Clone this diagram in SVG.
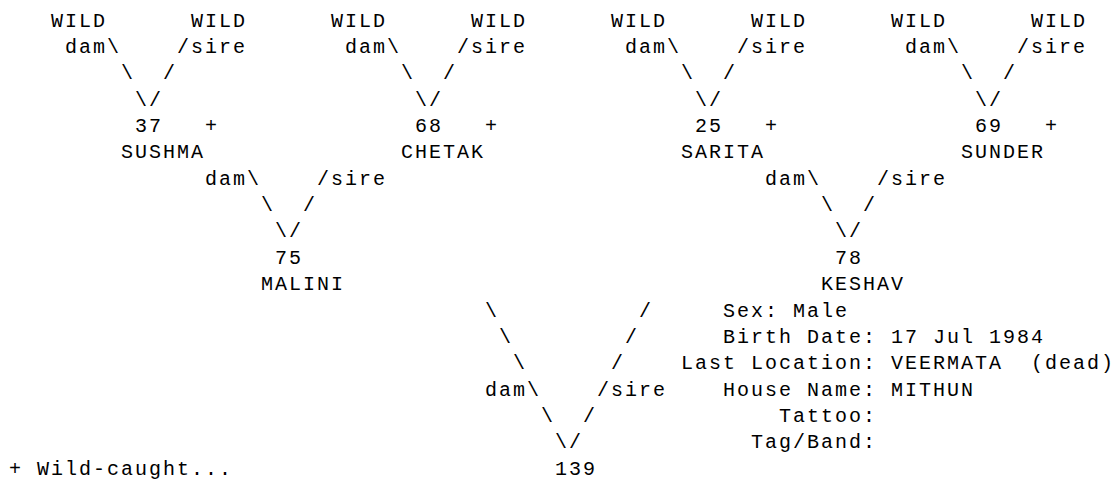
<svg xmlns="http://www.w3.org/2000/svg" width="1117" height="480" viewBox="0 0 1117 480">
<style>
text{font-family:"Liberation Mono","DejaVu Sans Mono",monospace;font-size:20px;letter-spacing:2px;fill:#000;white-space:pre}
</style>
<rect width="1117" height="480" fill="#fff"/>
<g id="connectors">
<text x="65" y="53">dam\</text><text x="177" y="53">/sire</text>
<text x="345" y="53">dam\</text><text x="457" y="53">/sire</text>
<text x="625" y="53">dam\</text><text x="737" y="53">/sire</text>
<text x="905" y="53">dam\</text><text x="1017" y="53">/sire</text>
<text x="121" y="79.3">\</text><text x="163" y="79.3">/</text>
<text x="401" y="79.3">\</text><text x="443" y="79.3">/</text>
<text x="681" y="79.3">\</text><text x="723" y="79.3">/</text>
<text x="961" y="79.3">\</text><text x="1003" y="79.3">/</text>
<text x="135" y="105.7">\/</text>
<text x="415" y="105.7">\/</text>
<text x="695" y="105.7">\/</text>
<text x="975" y="105.7">\/</text>
<text x="205" y="184.7">dam\</text><text x="317" y="184.7">/sire</text>
<text x="765" y="184.7">dam\</text><text x="877" y="184.7">/sire</text>
<text x="261" y="211">\</text><text x="303" y="211">/</text>
<text x="821" y="211">\</text><text x="863" y="211">/</text>
<text x="275" y="237.4">\/</text>
<text x="835" y="237.4">\/</text>
<text x="485" y="316.5">\</text><text x="639" y="316.5">/</text>
<text x="499" y="342.8">\</text><text x="625" y="342.8">/</text>
<text x="513" y="369.2">\</text><text x="611" y="369.2">/</text>
<text x="485" y="395.5">dam\</text><text x="597" y="395.5">/sire</text>
<text x="541" y="421.9">\</text><text x="583" y="421.9">/</text>
<text x="555" y="448.2">\/</text>
</g>
<g id="wild-1"><text x="51" y="26.6">WILD</text></g>
<g id="wild-2"><text x="191" y="26.6">WILD</text></g>
<g id="wild-3"><text x="331" y="26.6">WILD</text></g>
<g id="wild-4"><text x="471" y="26.6">WILD</text></g>
<g id="wild-5"><text x="611" y="26.6">WILD</text></g>
<g id="wild-6"><text x="751" y="26.6">WILD</text></g>
<g id="wild-7"><text x="891" y="26.6">WILD</text></g>
<g id="wild-8"><text x="1031" y="26.6">WILD</text></g>
<g id="node-37"><text x="135" y="132">37</text><text x="205" y="132">+</text><text x="121" y="158.4">SUSHMA</text></g>
<g id="node-68"><text x="415" y="132">68</text><text x="485" y="132">+</text><text x="401" y="158.4">CHETAK</text></g>
<g id="node-25"><text x="695" y="132">25</text><text x="765" y="132">+</text><text x="681" y="158.4">SARITA</text></g>
<g id="node-69"><text x="975" y="132">69</text><text x="1045" y="132">+</text><text x="961" y="158.4">SUNDER</text></g>
<g id="node-75"><text x="275" y="263.8">75</text><text x="261" y="290.1">MALINI</text></g>
<g id="node-78"><text x="835" y="263.8">78</text><text x="821" y="290.1">KESHAV</text></g>
<g id="node-139"><text x="555" y="474.6">139</text></g>
<g id="info">
<text x="723" y="316.5">Sex: Male</text>
<text x="723" y="342.8">Birth Date: 17 Jul 1984</text>
<text x="681" y="369.2" xml:space="preserve">Last Location: VEERMATA  (dead)</text>
<text x="723" y="395.5">House Name: MITHUN</text>
<text x="779" y="421.9">Tattoo:</text>
<text x="751" y="448.2">Tag/Band:</text>
</g>
<g id="legend"><text x="9" y="474.6">+ Wild-caught...</text></g>
</svg>
